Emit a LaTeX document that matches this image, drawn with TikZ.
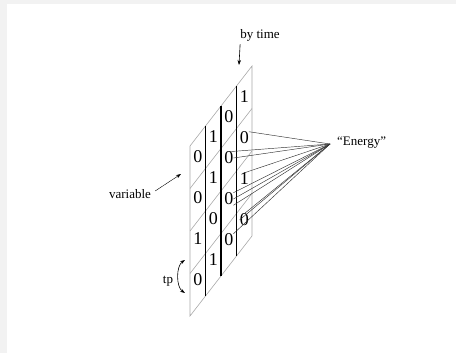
\documentclass[tikz,border=0pt]{standalone}
\usepackage{fontspec}
\setmainfont{Liberation Serif}
\usetikzlibrary{arrows.meta}
\definecolor{pale}{HTML}{F2F2F2}
\definecolor{sheet}{HTML}{A8A8A8}
\newcommand{\bit}[4]{\node[digit] (#1) at (#2,#3) {#4};}

\begin{document}
\begin{tikzpicture}[x=1pt,y=-1pt,
  digit/.style={inner sep=0pt,font=\fontsize{18}{18}\selectfont},
  label/.style={inner sep=1pt,font=\fontsize{13}{14}\selectfont},
  fan/.style={draw=black!80,line width=0.45pt},
  tip/.style={-{Stealth[length=5pt,width=3.5pt]}}]
\useasboundingbox (0,0) rectangle (456,353);
\fill[pale] (0,0) rectangle (456,4);
\fill[pale] (0,0) rectangle (7,353);
% the sheet
\draw[sheet,line width=0.6pt] (190,146) -- (252,66) -- (252,236) -- (190,316) -- cycle;
\draw[sheet,line width=0.6pt] (190,188.5) -- (252,108.5);
\draw[sheet,line width=0.6pt] (190,231) -- (252,151);
\draw[sheet,line width=0.6pt] (190,273.5) -- (252,193.5);
\draw[line width=1.2pt] (205.5,126) -- (205.5,296);
\draw[line width=1.2pt] (221,106) -- (221,276);
\draw[line width=1.2pt] (236.5,86) -- (236.5,256);
% the bits
\bit{a1}{197.75}{157}{0}
\bit{a2}{197.75}{198}{0}
\bit{a3}{197.75}{239}{1}
\bit{a4}{197.75}{280}{0}
\bit{b1}{213.25}{137}{1}
\bit{b2}{213.25}{178}{1}
\bit{b3}{213.25}{219}{0}
\bit{b4}{213.25}{260}{1}
\bit{c1}{228.75}{117}{0}
\bit{c2}{228.75}{158}{0}
\bit{c3}{228.75}{199}{0}
\bit{c4}{228.75}{240}{0}
\bit{d1}{244.25}{97}{1}
\bit{d2}{244.25}{138}{0}
\bit{d3}{244.25}{179}{1}
\bit{d4}{244.25}{220}{0}
% labels
\node[label] (time) at (260,35) {by time};
\node[label] (var) at (130,194) {variable};
\node[label] (tp) at (168,281) {tp};
\node[label,anchor=west] (energy) at (336,143) {``Energy''};
\coordinate (apex) at (330,144);
\coordinate (top) at (239,65);
\coordinate (side) at (181,174);
\coordinate (up) at (185,260);
\coordinate (down) at (185,293);
\draw[tip,line width=0.6pt] (time.south west) ++(1,2) coordinate (t0) (t0) -- (top);
\draw[tip,line width=0.4pt] (var.east) ++(3,-3) coordinate (v0) (v0) -- (side);
\draw[{Stealth[length=5pt,width=3.5pt]}-{Stealth[length=5pt,width=3.5pt]},line width=0.6pt] (up) .. controls (176,266) and (176,287) .. (down);
% lines to the energy
\foreach \b in {d2.north east,c2.north,c2.east,d3.north,c3.north east,c3.east,c3.south east,d4.north,d4.west,c4.north east} \draw[fan] (apex) -- (\b);
\end{tikzpicture}
\end{document}
